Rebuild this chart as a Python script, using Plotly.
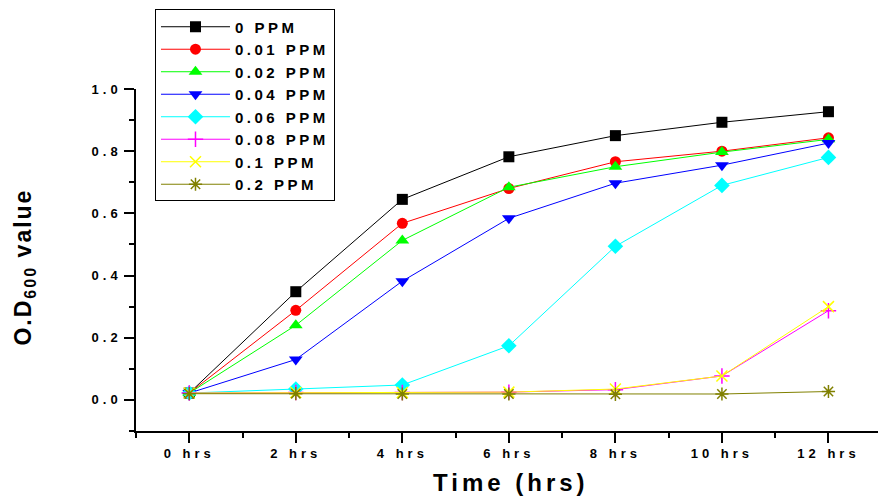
import plotly.graph_objects as go

hours = [0, 2, 4, 6, 8, 10, 12]
tick_labels = ["0 hrs", "2 hrs", "4 hrs", "6 hrs", "8 hrs", "10 hrs", "12 hrs"]
y_ticks = [0.0, 0.2, 0.4, 0.6, 0.8, 1.0]
y_tick_labels = ["0.0", "0.2", "0.4", "0.6", "0.8", "1.0"]

series_names = ["0 PPM", "0.01 PPM", "0.02 PPM", "0.04 PPM", "0.06 PPM", "0.08 PPM", "0.1 PPM", "0.2 PPM"]
ppm_0 = [0.022, 0.348, 0.645, 0.782, 0.850, 0.893, 0.927]
ppm_001 = [0.022, 0.288, 0.568, 0.680, 0.766, 0.800, 0.843]
ppm_002 = [0.022, 0.240, 0.513, 0.684, 0.750, 0.797, 0.838]
ppm_004 = [0.022, 0.130, 0.382, 0.584, 0.697, 0.755, 0.826]
ppm_006 = [0.022, 0.035, 0.048, 0.174, 0.494, 0.690, 0.780]
ppm_008 = [0.022, 0.024, 0.024, 0.025, 0.033, 0.077, 0.287]
ppm_01 = [0.022, 0.024, 0.024, 0.025, 0.035, 0.077, 0.300]
ppm_02 = [0.020, 0.020, 0.019, 0.019, 0.018, 0.019, 0.027]

series_values = [ppm_0, ppm_001, ppm_002, ppm_004, ppm_006, ppm_008, ppm_01, ppm_02]
colors = ["#000000", "#ff0000", "#00ff00", "#0000ff", "#00ffff", "#ff00ff", "#ffff00", "#808000"]
symbols = ["square", "circle", "triangle-up", "triangle-down", "diamond", "cross-thin", "x-thin", "asterisk"]
sizes = [11, 11, 12, 12, 12, 11, 11, 11]

FAM = "Liberation Sans, Arial"

fig = go.Figure()
for name, vals, c, s, sz in zip(series_names, series_values, colors, symbols, sizes):
    thin = s.endswith("thin") or s == "asterisk"
    fig.add_trace(go.Scatter(
        x=hours, y=vals, name=name, mode="lines+markers",
        line=dict(color=c, width=1),
        marker=dict(symbol=s, size=sz, color=c,
                    line=dict(color=c, width=1.5 if thin else 0)),
    ))

tick_font = dict(family=FAM, size=13, color="#000000", weight="bold")

fig.update_layout(
    width=878, height=500,
    margin=dict(l=136, r=0, t=89, b=69),
    paper_bgcolor="white", plot_bgcolor="white",
    showlegend=True,
    legend=dict(
        x=0.0256, y=1.2325, xanchor="left", yanchor="top",
        bordercolor="#000000", borderwidth=1, bgcolor="white",
        font=dict(family=FAM, size=15, color="#000000", weight="bold"),
        itemwidth=69, tracegroupgap=0,
    ),
    xaxis=dict(
        range=[-1, 12.93], tickmode="array", tickvals=hours, ticktext=tick_labels,
        showgrid=False, zeroline=False, showline=True, linecolor="#000000", linewidth=1.5,
        ticks="outside", ticklen=10, tickwidth=1.5, tickcolor="#000000",
        tickfont=tick_font, automargin=False,
        minor=dict(tickmode="array", tickvals=[-1, 1, 3, 5, 7, 9, 11], ticks="outside",
                   ticklen=5, tickwidth=1.5, tickcolor="#000000"),
    ),
    yaxis=dict(
        range=[-0.1, 1.0], tickmode="array", tickvals=y_ticks, ticktext=y_tick_labels,
        showgrid=False, zeroline=False, showline=True, linecolor="#000000", linewidth=1.5,
        ticks="outside", ticklen=10, tickwidth=1.5, tickcolor="#000000",
        tickfont=tick_font, automargin=False,
        minor=dict(tickmode="array", tickvals=[-0.1, 0.1, 0.3, 0.5, 0.7, 0.9], ticks="outside",
                   ticklen=5, tickwidth=1.5, tickcolor="#000000"),
    ),
    annotations=[
        dict(text="Time (hrs)", xref="paper", yref="paper", x=0.506, y=-0.152,
             xanchor="center", yanchor="middle", showarrow=False,
             font=dict(family=FAM, size=24, color="#000000", weight="bold")),
        dict(text="O.D<sub>600</sub> value", xref="paper", yref="paper", x=-0.150, y=0.48,
             xanchor="center", yanchor="middle", showarrow=False, textangle=-90,
             font=dict(family=FAM, size=23, color="#000000", weight="bold")),
    ],
)

# Letter-spaced text like the original; re-measure text after the style is applied
post = """
var gd = document.getElementById('{plot_id}');
var st = document.createElement('style');
st.textContent = '.xtick text, .ytick text {letter-spacing: 4px;} ' +
                 '.legendtext {letter-spacing: 3.5px;} ' +
                 '.annotation-text {letter-spacing: 4px;} ' +
                 'g.annotation[data-index="1"] text {letter-spacing: 2px;}';
document.head.appendChild(st);
var f2 = 'Liberation Sans, Arial, sans-serif';
return Plotly.relayout(gd, {
  'legend.font.family': f2,
  'xaxis.tickfont.family': f2,
  'yaxis.tickfont.family': f2,
  'annotations[0].font.family': f2,
  'annotations[1].font.family': f2
});
"""

fig.write_html("out.html", post_script=post)
